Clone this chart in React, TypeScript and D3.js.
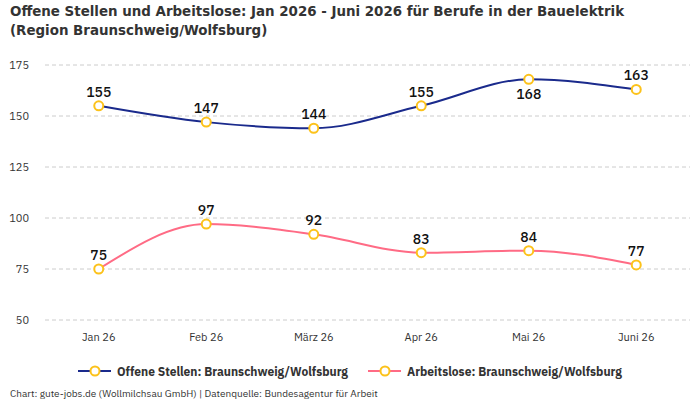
import { useEffect, useRef } from "react";
import * as d3 from "d3";

const months = ["Jan 26", "Feb 26", "März 26", "Apr 26", "Mai 26", "Juni 26"];
const offeneStellen = [155, 147, 144, 155, 168, 163];
const arbeitslose = [75, 97, 92, 83, 84, 77];
const yTicks = [50, 75, 100, 125, 150, 175];
// labels that sit under the point instead of above it
const stellenBelow = [false, false, false, false, true, false];
const loseBelow = [false, false, false, false, false, false];

const FONT = "'IBM Plex Sans', Roboto, 'Noto Sans', sans-serif";

const App = () => {
  const ref = useRef<SVGSVGElement | null>(null);

  useEffect(() => {
    const w = 700;
    const h = 400;
    const svg = d3.select(ref.current).attr("width", w).attr("height", h);
    svg.selectAll("*").remove();

    const x = d3.scalePoint().domain(months).range([45, 690]).padding(0.5);
    const y = d3.scaleLinear().domain([50, 175]).range([320, 65]);

    svg.append("rect").attr("width", w).attr("height", h).attr("fill", "#fff");

    svg
      .append("text")
      .attr("x", 10)
      .attr("y", 16)
      .attr("font-family", "'DejaVu Sans Condensed', 'DejaVu Sans', sans-serif")
      .attr("font-stretch", "condensed")
      .attr("font-weight", "bold")
      .attr("font-size", 14.9)
      .attr("fill", "#333")
      .selectAll("tspan")
      .data([
        "Offene Stellen und Arbeitslose: Jan 2026 - Juni 2026 für Berufe in der Bauelektrik",
        "(Region Braunschweig/Wolfsburg)",
      ])
      .join("tspan")
      .attr("x", 10)
      .attr("dy", (_, i) => (i === 0 ? 0 : 19))
      .text((d) => d);

    // grid + y labels
    const yAxis = svg.append("g");
    yAxis
      .selectAll("line")
      .data(yTicks)
      .join("line")
      .attr("x1", 45)
      .attr("x2", 690)
      .attr("y1", (d) => y(d))
      .attr("y2", (d) => y(d))
      .attr("stroke", "#ccc")
      .attr("stroke-dasharray", "4,3");
    yAxis
      .selectAll("text")
      .data(yTicks)
      .join("text")
      .attr("x", 29)
      .attr("y", (d) => y(d) + 4)
      .attr("text-anchor", "end")
      .attr("font-family", FONT)
      .attr("font-size", 11)
      .attr("fill", "#333")
      .text((d) => d);

    svg
      .append("g")
      .selectAll("text")
      .data(months)
      .join("text")
      .attr("x", (d) => x(d)!)
      .attr("y", 341)
      .attr("text-anchor", "middle")
      .attr("font-family", FONT)
      .attr("font-size", 11)
      .attr("fill", "#333")
      .text((d) => d);

    const line = d3
      .line<number>()
      .x((_, i) => x(months[i])!)
      .y((d) => y(d))
      .curve(d3.curveMonotoneX);

    const series = [
      { values: offeneStellen, color: "#1a2a8c", below: stellenBelow },
      { values: arbeitslose, color: "#ff6b85", below: loseBelow },
    ];

    series.forEach((s) => {
      const g = svg.append("g");
      g.append("path")
        .attr("d", line(s.values))
        .attr("fill", "none")
        .attr("stroke", s.color)
        .attr("stroke-width", 2);
      g.selectAll("circle")
        .data(s.values)
        .join("circle")
        .attr("cx", (_, i) => x(months[i])!)
        .attr("cy", (d) => y(d))
        .attr("r", 4.5)
        .attr("fill", "#fff")
        .attr("stroke", "#fcc21b")
        .attr("stroke-width", 2);
      g.selectAll("text")
        .data(s.values)
        .join("text")
        .attr("x", (_, i) => x(months[i])!)
        .attr("y", (d, i) => (s.below[i] ? y(d) + 20 : y(d) - 9))
        .attr("text-anchor", "middle")
        .attr("font-family", FONT)
        .attr("font-weight", 500)
        .attr("font-size", 14)
        .attr("fill", "#111")
        .text((d) => d);
    });

    // legend
    const legend = [
      { label: "Offene Stellen: Braunschweig/Wolfsburg", color: "#1a2a8c", x0: 78 },
      { label: "Arbeitslose: Braunschweig/Wolfsburg", color: "#ff6b85", x0: 368 },
    ];
    legend.forEach((l) => {
      const g = svg.append("g").attr("transform", `translate(${l.x0},371)`);
      g.append("line").attr("x1", 0).attr("x2", 33).attr("stroke", l.color).attr("stroke-width", 2);
      g.append("circle")
        .attr("cx", 17)
        .attr("r", 4.5)
        .attr("fill", "#fff")
        .attr("stroke", "#fcc21b")
        .attr("stroke-width", 2);
      g.append("text")
        .attr("x", 39)
        .attr("y", 4.5)
        .attr("font-family", FONT)
        .attr("font-weight", "bold")
        .attr("font-size", 12)
        .attr("fill", "#333")
        .text(l.label);
    });

    svg
      .append("text")
      .attr("x", 10)
      .attr("y", 397)
      .attr("font-family", FONT)
      .attr("font-size", 10)
      .attr("fill", "#333")
      .text("Chart: gute-jobs.de (Wollmilchsau GmbH) | Datenquelle: Bundesagentur für Arbeit");
  }, []);

  return <svg ref={ref} style={{ display: "block", position: "absolute", left: 0, top: 0 }}></svg>;
};

export default App;
